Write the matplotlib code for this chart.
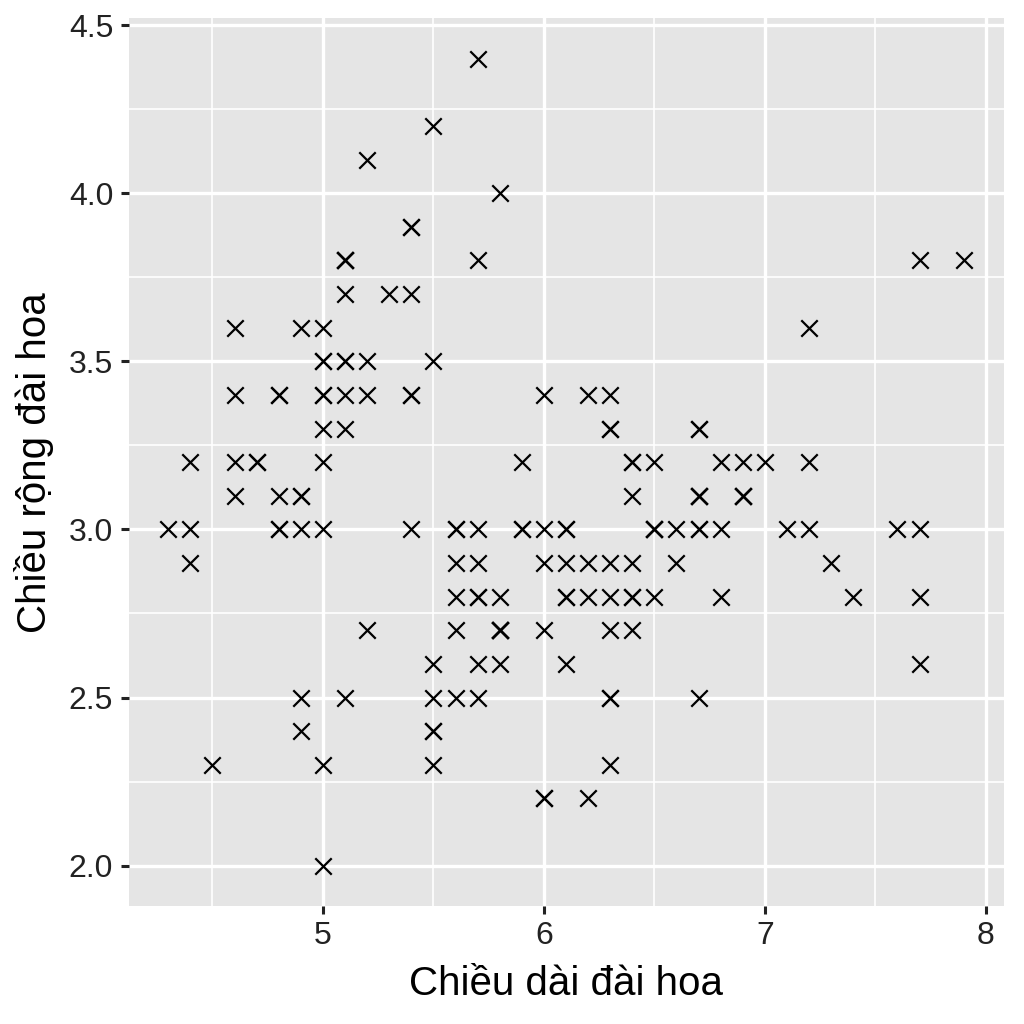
import matplotlib
matplotlib.use("Agg")
import matplotlib.pyplot as plt
from matplotlib.ticker import MultipleLocator

plt.rcParams['font.family'] = ['Liberation Sans', 'DejaVu Sans']

sepal_length = [
    5.1,4.9,4.7,4.6,5.0,5.4,4.6,5.0,4.4,4.9,5.4,4.8,4.8,4.3,5.8,5.7,5.4,5.1,5.7,5.1,5.4,5.1,4.6,5.1,4.8,5.0,5.0,5.2,5.2,4.7,4.8,5.4,5.2,5.5,4.9,5.0,5.5,4.9,4.4,5.1,5.0,4.5,4.4,5.0,5.1,4.8,5.1,4.6,5.3,5.0,
    7.0,6.4,6.9,5.5,6.5,5.7,6.3,4.9,6.6,5.2,5.0,5.9,6.0,6.1,5.6,6.7,5.6,5.8,6.2,5.6,5.9,6.1,6.3,6.1,6.4,6.6,6.8,6.7,6.0,5.7,5.5,5.5,5.8,6.0,5.4,6.0,6.7,6.3,5.6,5.5,5.5,6.1,5.8,5.0,5.6,5.7,5.7,6.2,5.1,5.7,
    6.3,5.8,7.1,6.3,6.5,7.6,4.9,7.3,6.7,7.2,6.5,6.4,6.8,5.7,5.8,6.4,6.5,7.7,7.7,6.0,6.9,5.6,7.7,6.3,6.7,7.2,6.2,6.1,6.4,7.2,7.4,7.9,6.4,6.3,6.1,7.7,6.3,6.4,6.0,6.9,6.7,6.9,5.8,6.8,6.7,6.7,6.3,6.5,6.2,5.9]
sepal_width = [
    3.5,3.0,3.2,3.1,3.6,3.9,3.4,3.4,2.9,3.1,3.7,3.4,3.0,3.0,4.0,4.4,3.9,3.5,3.8,3.8,3.4,3.7,3.6,3.3,3.4,3.0,3.4,3.5,3.4,3.2,3.1,3.4,4.1,4.2,3.1,3.2,3.5,3.6,3.0,3.4,3.5,2.3,3.2,3.5,3.8,3.0,3.8,3.2,3.7,3.3,
    3.2,3.2,3.1,2.3,2.8,2.8,3.3,2.4,2.9,2.7,2.0,3.0,2.2,2.9,2.9,3.1,3.0,2.7,2.2,2.5,3.2,2.8,2.5,2.8,2.9,3.0,2.8,3.0,2.9,2.6,2.4,2.4,2.7,2.7,3.0,3.4,3.1,2.3,3.0,2.5,2.6,3.0,2.6,2.3,2.7,3.0,2.9,2.9,2.5,2.8,
    3.3,2.7,3.0,2.9,3.0,3.0,2.5,2.9,2.5,3.6,3.2,2.7,3.0,2.5,2.8,3.2,3.0,3.8,2.6,2.2,3.2,2.8,2.8,2.7,3.3,3.2,2.8,3.0,2.8,3.0,2.8,3.8,2.8,2.8,2.6,3.0,3.4,3.1,3.0,3.1,3.1,3.1,2.7,3.2,3.3,3.0,2.5,3.0,3.4,3.0]

x_ticks = [5, 6, 7, 8]
y_ticks = [2.0, 2.5, 3.0, 3.5, 4.0, 4.5]
x_label = "Chiều dài đài hoa"
y_label = "Chiều rộng đài hoa"

fig = plt.figure(figsize=(10.24, 10.24), dpi=100)
ax = fig.add_axes([0.1255, 0.1152, 0.8545, 0.8669])
ax.set_facecolor('#E5E5E5')

ax.scatter(sepal_length, sepal_width, marker='x', s=140, c='black', linewidths=1.6, zorder=3)

xmin, xmax = min(sepal_length), max(sepal_length)
ymin, ymax = min(sepal_width), max(sepal_width)
ax.set_xlim(xmin - 0.05*(xmax-xmin), xmax + 0.05*(xmax-xmin))
ax.set_ylim(ymin - 0.05*(ymax-ymin), ymax + 0.05*(ymax-ymin))

ax.set_xticks(x_ticks)
ax.set_yticks(y_ticks)
ax.set_yticklabels([f"{v:.1f}" for v in y_ticks])
ax.xaxis.set_minor_locator(MultipleLocator(0.5))
ax.yaxis.set_minor_locator(MultipleLocator(0.25))

ax.grid(True, which='major', color='white', linewidth=2.4, zorder=0)
ax.grid(True, which='minor', color='white', linewidth=1.2, zorder=0)
ax.set_axisbelow(True)
for s in ax.spines.values():
    s.set_visible(False)

ax.tick_params(which='major', length=6, width=2.2, color='#222222', labelsize=23, labelcolor='#222222', pad=5)
ax.tick_params(which='minor', length=0)

ax.set_xlabel(x_label, fontsize=29, color='black', labelpad=10)
ax.set_ylabel(y_label, fontsize=29, color='black', labelpad=11)

fig.savefig('out.png', dpi=100)
